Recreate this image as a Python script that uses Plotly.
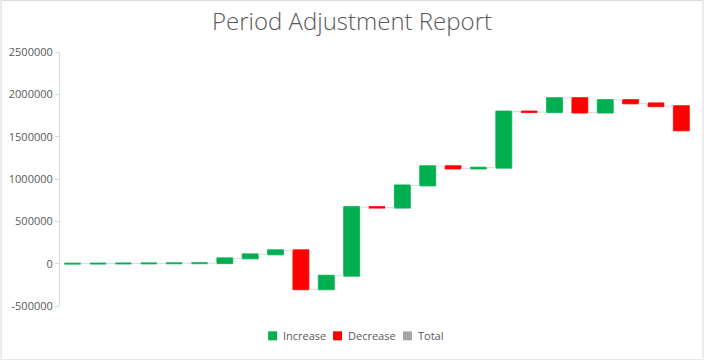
import plotly.graph_objects as go

categories = [f"P{i}" for i in range(1, 26)]
changes = [1000, 1000, 1000, 1000, 1000, 1000, 57000, 47000, 48000, -460000,
           160000, 810000, -6000, 262000, 227000, -27000, 10000, 663000,
           -7000, 165000, -170000, 147000, -39000, -33000, -285000]
measures = ["relative"] * len(changes)
y_tickvals = [-500000, 0, 500000, 1000000, 1500000, 2000000, 2500000]
y_ticktext = ["-500000", "0", "500000", "1000000", "1500000", "2000000", "2500000"]
legend_names = ["Increase", "Decrease", "Total"]
legend_colors = ["#00B050", "#FF0000", "#A5A5A5"]

W, H = 704, 360
L, R, T, B = 59.5, 9.5, 52, 54.3
pw, ph = W - L - R, H - T - B


def px_x(p):
    return (p - L) / pw


def px_y(p):
    return (H - B - p) / ph


fig = go.Figure()
fig.add_trace(go.Waterfall(
    x=categories, y=changes, measure=measures,
    increasing=dict(marker=dict(color="#00B050", line=dict(color="#00B050", width=0.8))),
    decreasing=dict(marker=dict(color="#FF0000", line=dict(color="#FF0000", width=0.8))),
    totals=dict(marker=dict(color="#A5A5A5", line=dict(color="#A5A5A5", width=0.8))),
    connector=dict(mode="between", line=dict(color="#D9D9D9", width=1)),
    showlegend=False, hoverinfo="x+y",
))

shapes = [dict(type="rect", xref="paper", yref="paper",
               x0=px_x(0.5), x1=px_x(W - 0.5), y0=px_y(H - 0.5), y1=px_y(0.5),
               line=dict(color="#D9D9D9", width=1))]
annotations = []
legend_sq_x = [268, 333, 403]
for name, col, sx in zip(legend_names, legend_colors, legend_sq_x):
    shapes.append(dict(type="rect", xref="paper", yref="paper",
                       x0=px_x(sx), x1=px_x(sx + 9), y0=px_y(340), y1=px_y(331),
                       fillcolor=col, line=dict(width=0)))
    annotations.append(dict(text=name, xref="paper", yref="paper", x=px_x(sx + 13), y=px_y(335.5),
                            xanchor="left", yanchor="middle", showarrow=False,
                            font=dict(size=11, color="#595959")))

fig.update_layout(
    width=W, height=H,
    margin=dict(l=L, r=R, t=T, b=B, autoexpand=False),
    paper_bgcolor="white", plot_bgcolor="white",
    waterfallgap=0.37,
    showlegend=False,
    title=dict(text="Period Adjustment Report", x=0.5, xref="container", xanchor="center",
               y=1 - 22 / H, yanchor="middle",
               font=dict(family="Open Sans, Noto Sans, sans-serif", size=24, color="#595959", weight=300)),
    font=dict(family="Open Sans, Noto Sans, sans-serif", size=11, color="#595959"),
    xaxis=dict(showticklabels=False, showline=False, showgrid=False, zeroline=False, ticks=""),
    yaxis=dict(range=[-500000, 2500000], tickvals=y_tickvals, ticktext=y_ticktext, automargin=False,
               showline=True, linecolor="#D9D9D9", linewidth=1, ticks="outside", ticklen=4,
               tickcolor="#D9D9D9", showgrid=False, zeroline=False, tickfont=dict(size=11, color="#595959")),
    shapes=shapes,
    annotations=annotations,
)
fig.write_html("out.html", config={"displayModeBar": False},
               post_script="document.body.style.margin='0';document.body.style.padding='0';")
